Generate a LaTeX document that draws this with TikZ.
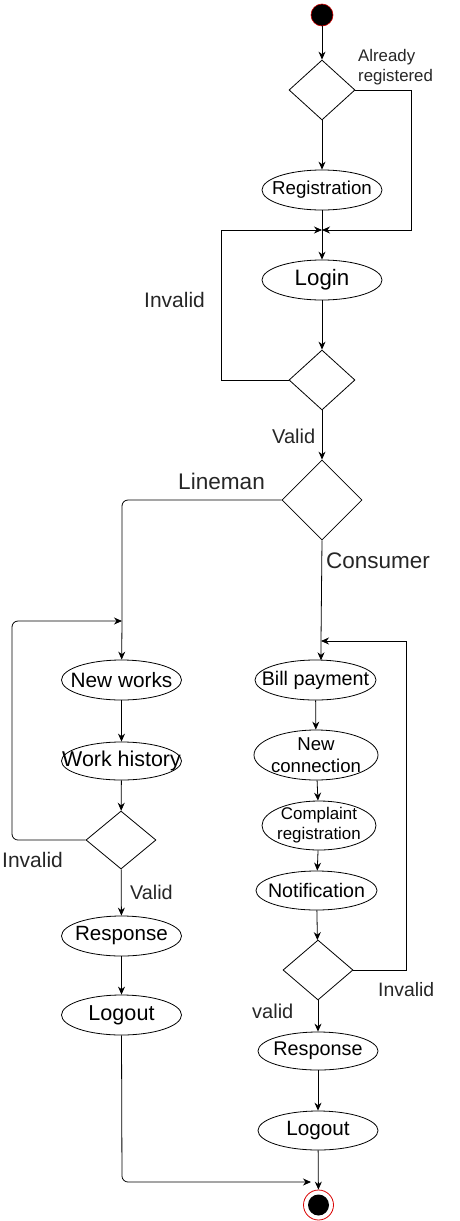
\documentclass[tikz,border=0pt]{standalone}
\usepackage{fontspec}
\setmainfont{Liberation Sans}
\usetikzlibrary{shapes.geometric,arrows.meta}
\newcommand{\fsz}[1]{\fontsize{#1}{#1}\selectfont}
\begin{document}
\begin{tikzpicture}[x=1pt,y=-1pt,
  act/.style={draw,ellipse,minimum width=120pt,minimum height=40pt,inner xsep=-40pt,inner ysep=-20pt,line width=0.8pt,font=\fsz{20}},
  dec/.style={draw,diamond,inner sep=0pt,line width=0.8pt},
  lbl/.style={font=\fsz{20.5},text=black!85,inner sep=0pt},
  flow/.style={line width=0.8pt,-{Stealth[length=8pt,width=7pt]}},
  ln/.style={line width=0.8pt}]
\useasboundingbox (0,0) rectangle (459,1221);
% start
\node[circle,fill=black,draw=red!80!black,line width=0.6pt,minimum size=22pt,inner sep=0pt] (start) at (322,15) {};
\node[dec,minimum width=66pt,minimum height=60pt] (d1) at (322,90) {};
\node[act,font=\fsz{18.7}] (reg) at (322,190) {Registration};
\coordinate (j1) at (322,230);
\node[act,font=\fsz{22.3}] (login) at (322,280) {Login};
\node[dec,minimum width=66pt,minimum height=60pt] (d2) at (322,380) {};
\node[dec,minimum width=80pt,minimum height=80pt] (d3) at (322,500) {};
% left branch
\coordinate (jl) at (122,621);
\node[act,font=\fsz{20.8}] (nw) at (121.5,680) {New works};
\node[act,minimum height=38pt,font=\fsz{21.4}] (wh) at (121.5,761) {Work history};
\node[dec,minimum width=70pt,minimum height=58pt] (d4) at (121,840) {};
\node[act,font=\fsz{20.6}] (resl) at (121.5,936) {Response};
\node[act,font=\fsz{21.6}] (logl) at (121.5,1015) {Logout};
% right branch
\coordinate (jr) at (321,641);
\node[act,minimum width=121pt,font=\fsz{19.7}] (bill) at (315.5,680) {Bill payment};
\node[act,minimum width=124pt,minimum height=50pt,align=center,font=\fontsize{18.6}{22}\selectfont] (nc) at (316,755) {New\\connection};
\node[act,minimum width=114pt,minimum height=49pt,align=center,font=\fontsize{16.9}{20}\selectfont] (cr) at (319,825.5) {Complaint\\registration};
\node[act,minimum width=121pt,minimum height=39pt,font=\fsz{19.6}] (notif) at (316.5,890.5) {Notification};
\node[dec,minimum width=70pt,minimum height=60pt] (d5) at (318,970) {};
\node[act,minimum height=38pt,font=\fsz{19.8}] (resr) at (318,1051) {Response};
\node[act,minimum height=39pt,font=\fsz{20.7}] (logr) at (318,1130.5) {Logout};
% end
\node[circle,draw=red!85!black,line width=0.8pt,minimum size=30pt,inner sep=0pt] (endn) at (318.5,1205) {};
\node[circle,fill=black,minimum size=21pt,inner sep=0pt] (endi) at (318.5,1205) {};
% labels
\node[lbl,anchor=west,align=left,font=\fontsize{16.8}{20}\selectfont] (lar) at (358,67) {Already\\registered};
\node[lbl,anchor=west,font=\fsz{21}] (linv1) at (144,300) {Invalid};
\node[lbl,anchor=west,font=\fsz{20}] (lval1) at (272,436) {Valid};
\node[lbl,anchor=west,font=\fsz{22.6}] (llin) at (178,481) {Lineman};
\node[lbl,anchor=west,font=\fsz{22.5}] (lcon) at (326,561) {Consumer};
\node[lbl,anchor=west,font=\fsz{21}] (linv2) at (2,860) {Invalid};
\node[lbl,anchor=west,font=\fsz{19.8}] (lval2) at (130,892) {Valid};
\node[lbl,anchor=west,font=\fsz{19.4}] (linv3) at (378,990) {Invalid};
\node[lbl,anchor=west,font=\fsz{20}] (lval3) at (252,1011) {valid};
% connectors
\draw[flow] (start) -- (d1);
\draw[flow] (d1) -- (reg);
\draw[flow] (d1.east) -- (411,90) -- (411,230) -- (j1);
\draw[ln] (reg) -- (j1);
\draw[flow] (j1) -- (login);
\draw[flow] (login) -- (d2);
\draw[flow] (d2.west) -- (221,380) -- (221,230) -- (j1);
\draw[flow] (d2) -- (d3);
\draw[flow,rounded corners=6pt] (d3.west) -- (122,500) -- (jl) -- (nw);
\draw[flow] (nw) -- (wh);
\draw[flow] (wh) -- (d4);
\draw[flow,rounded corners=6pt] (d4.west) -- (12,840) -- (12,621) -- (jl);
\draw[flow] (d4) -- (resl);
\draw[flow] (resl) -- (logl);
\draw[flow,rounded corners=6pt] (logl.south) -- (122,1182) -- (311,1182);
\draw[flow] (d3.south) -- (jr) -- (321,660.3);
\draw[flow] (bill) -- (nc);
\draw[flow] (nc) -- (cr);
\draw[flow] (cr) -- (notif);
\draw[flow] (notif) -- (d5);
\draw[flow] (d5.east) -- (406,970) -- (406,641) -- (jr);
\draw[flow] (d5) -- (resr);
\draw[flow] (resr) -- (logr);
\draw[flow] (logr) -- (endn);
\end{tikzpicture}
\end{document}
